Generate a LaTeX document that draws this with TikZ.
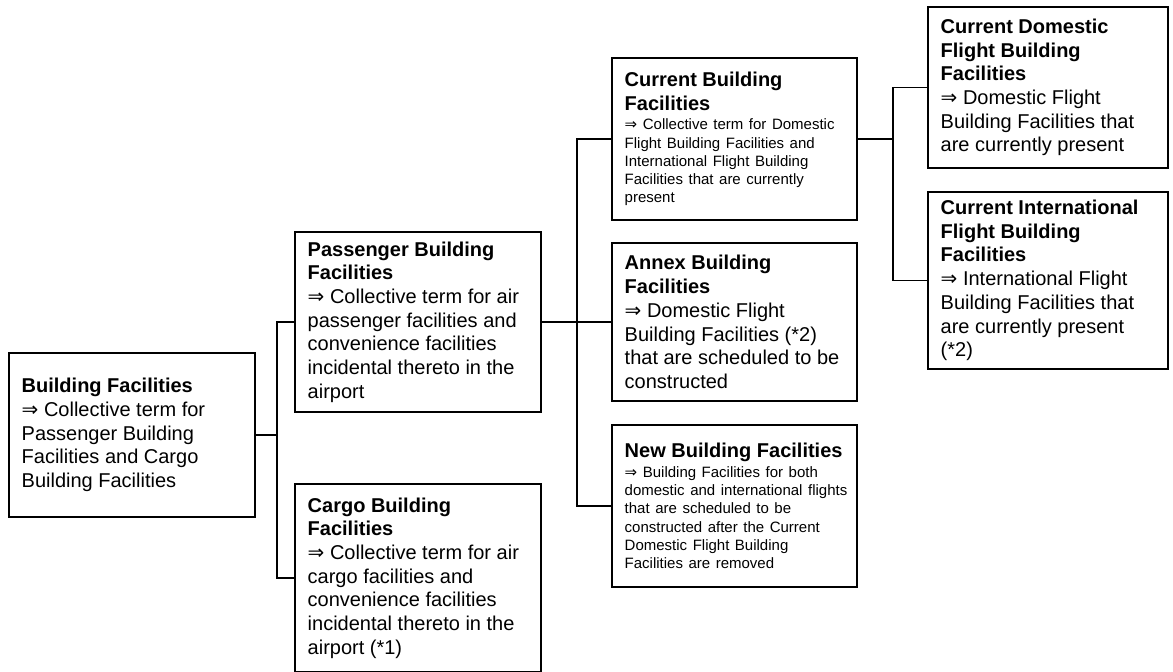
\documentclass[tikz,border=0pt]{standalone}
\usepackage{fontspec}
\setmainfont{Liberation Sans}
\newfontfamily\arrfont{DejaVu Sans}
\newcommand{\rarr}{{\arrfont ⇒}}
\newcommand{\smallsz}{\fontsize{15}{18.2}\selectfont}
\begin{document}
\begin{tikzpicture}[x=1pt,y=-1pt,
  box/.style={draw=black, line width=2.6pt, inner sep=0pt, outer sep=0pt, fill=white},
  txt/.style={anchor=west, text width=320pt, inner sep=0pt, font=\fontsize{20}{23.7}\selectfont,
    execute at begin node={\raggedright\rightskip=0pt plus 1fil\parfillskip=0pt plus 1fil\spaceskip=\fontdimen2\font}},
  conn/.style={draw=black, line width=1.3pt}]
\useasboundingbox (0,0) rectangle (1173,672);

% boxes
\node[box, minimum width=246pt, minimum height=164pt] (BF) at (132,435) {};
\node[box, minimum width=246pt, minimum height=180pt] (PB) at (418,322) {};
\node[box, minimum width=246pt, minimum height=188pt] (CG) at (418,578) {};
\node[box, minimum width=245pt, minimum height=162pt] (CB) at (734.5,139) {};
\node[box, minimum width=245pt, minimum height=158pt] (AN) at (734.5,322) {};
\node[box, minimum width=245pt, minimum height=162pt] (NW) at (734.5,506) {};
\node[box, minimum width=240pt, minimum height=161pt] (CD) at (1048,87.5) {};
\node[box, minimum width=240pt, minimum height=177pt] (CI) at (1048,280.5) {};

% texts
\node[txt] (BFt) at ([xshift=12.5pt]BF.west) {{\bfseries Building Facilities\par}
\rarr\ Collective term for\par Passenger Building\par Facilities and Cargo\par Building Facilities\par};
\node[txt] (PBt) at ([xshift=12.5pt]PB.west) {{\bfseries Passenger Building\par Facilities\par}
\rarr\ Collective term for air\par passenger facilities and\par convenience facilities\par incidental thereto in the\par airport\par};
\node[txt] (CGt) at ([xshift=12.5pt]CG.west) {{\bfseries Cargo Building\par Facilities\par}
\rarr\ Collective term for air\par cargo facilities and\par convenience facilities\par incidental thereto in the\par airport (*1)\par};
\node[txt] (CBt) at ([xshift=12.5pt]CB.west) {{\bfseries Current Building\par Facilities\par}\vspace{1.5pt}
\smallsz\rarr\ Collective term for Domestic\par Flight Building Facilities and\par International Flight Building\par Facilities that are currently\par present\par};
\node[txt] (ANt) at ([xshift=12.5pt]AN.west) {{\bfseries Annex Building\par Facilities\par}
\rarr\ Domestic Flight\par Building Facilities (*2)\par that are scheduled to be\par constructed\par};
\node[txt] (NWt) at ([xshift=12.5pt]NW.west) {{\bfseries New Building Facilities\par}\vspace{1.5pt}
\smallsz\rarr\ Building Facilities for both\par domestic and international flights\par that are scheduled to be\par constructed after the Current\par Domestic Flight Building\par Facilities are removed\par};
\node[txt] (CDt) at ([xshift=12.5pt]CD.west) {{\bfseries Current Domestic\par Flight Building\par Facilities\par}
\rarr\ Domestic Flight\par Building Facilities that\par are currently present\par};
\node[txt] (CIt) at ([xshift=12.5pt]CI.west) {{\bfseries Current International\par Flight Building\par Facilities\par}
\rarr\ International Flight\par Building Facilities that\par are currently present\par (*2)\par};

% junctions
\coordinate (j1) at (277,435);
\coordinate (j2) at (577,322);
\coordinate (j3) at (893,139);

% connectors
\draw[conn] (BF.east) -- (j1);
\draw[conn] (PB.west) -| (j1);
\draw[conn] (CG.west) -| (j1);
\draw[conn] (PB.east) -- (AN.west);
\draw[conn] (CB.west) -| (j2);
\draw[conn] (NW.west) -| (j2);
\draw[conn] (CB.east) -- (j3);
\draw[conn] (CD.west) -| (j3);
\draw[conn] (CI.west) -| (j3);
\end{tikzpicture}
\end{document}
